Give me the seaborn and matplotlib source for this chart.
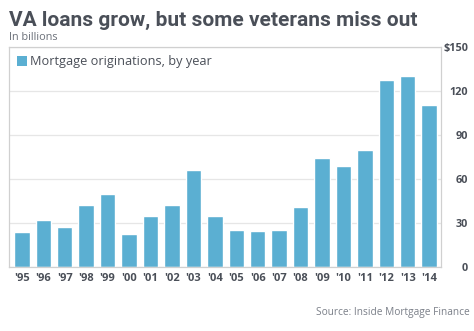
import matplotlib
matplotlib.use("Agg")
import matplotlib.pyplot as plt
import seaborn as sns
import pandas as pd
from matplotlib.patches import Patch

years = ["'95", "'96", "'97", "'98", "'99", "'00", "'01", "'02", "'03", "'04",
         "'05", "'06", "'07", "'08", "'09", "'10", "'11", "'12", "'13", "'14"]
values = [24, 32, 27, 42, 50, 22.5, 35, 42, 66, 35,
          25, 24.5, 25, 41, 74, 69, 80, 127.5, 130, 110.5]
y_ticks = [0, 30, 60, 90, 120, 150]
y_tick_labels = ["0", "30", "60", "90", "120", "$150"]

sns.set_theme(style="white")
plt.rcParams['font.family'] = ['Open Sans', 'DejaVu Sans']

bar_color = "#5BAFD2"
text_dark = "#4A4F58"

df = pd.DataFrame({"year": years, "value": values})

fig = plt.figure(figsize=(4.74, 3.31), dpi=100)
ax = fig.add_axes([9/474, 1-267/331, (441-9)/474, (267-47)/331])

sns.barplot(data=df, x="year", y="value", color=bar_color, saturation=1,
            width=0.72, ax=ax, zorder=2)

ax.set_ylim(0, 150)
ax.set_xlim(-0.6, len(years) - 0.45)
ax.yaxis.tick_right()
ax.set_yticks(y_ticks)
ax.set_yticklabels(y_tick_labels, fontsize=7.8, fontweight="bold", color=text_dark)
for lab in ax.get_yticklabels():
    lab.set_horizontalalignment("right")
ax.tick_params(axis="y", length=0, pad=19.4)
ax.tick_params(axis="x", length=0, pad=4)
for lab in ax.get_xticklabels():
    lab.set_fontsize(8)
    lab.set_fontweight("bold")
    lab.set_color(text_dark)
ax.set_xlabel("")
ax.set_ylabel("")
ax.grid(axis="y", color="#E6E6E6", linewidth=0.9, zorder=0)
ax.grid(axis="x", visible=False)
for s in ax.spines.values():
    s.set_color("#D0D0D0")
    s.set_linewidth(0.9)

leg = ax.legend(handles=[Patch(facecolor=bar_color, edgecolor="none",
                               label="Mortgage originations, by year")],
                loc="upper left", frameon=False, fontsize=9.2,
                handlelength=0.75, handleheight=0.75, handletextpad=0.25,
                borderaxespad=0.25, bbox_to_anchor=(0.0, 1.0))
for t in leg.get_texts():
    t.set_color(text_dark)

fig.text(9/474, 1-20/331, "VA loans grow, but some veterans miss out",
         fontsize=15, fontweight="bold", color=text_dark, va="center", ha="left",
         family=["Roboto", "DejaVu Sans"])
fig.text(9/474, 1-38/331, "In billions", fontsize=7.8, color="#6A6F78",
         va="center", ha="left")
fig.text(470/474, 1-313/331, "Source: Inside Mortgage Finance", fontsize=7.3,
         color="#7A7F88", va="center", ha="right")

fig.savefig("out.png", dpi=100)
